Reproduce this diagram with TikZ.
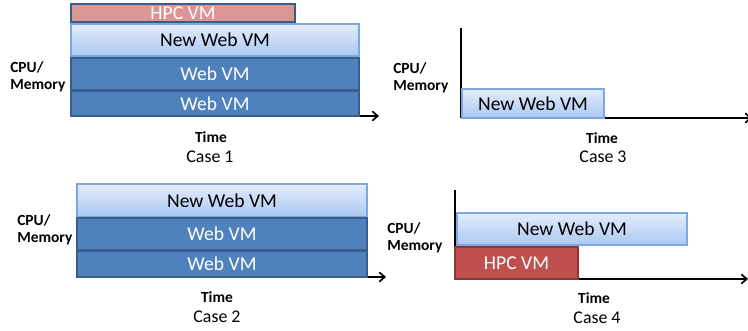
\documentclass[tikz,border=0pt]{standalone}
\usepackage{fontspec}
\setmainfont{Carlito}
\usetikzlibrary{arrows.meta,shadows}

\definecolor{webfill}{RGB}{79,129,189}
\definecolor{webline}{RGB}{56,93,138}
\definecolor{newtop}{RGB}{226,236,252}
\definecolor{newbot}{RGB}{172,200,242}
\definecolor{newline}{RGB}{126,166,224}
\definecolor{hpcpale}{RGB}{217,150,148}
\definecolor{hpcfill}{RGB}{192,80,77}
\definecolor{hpcline}{RGB}{140,56,54}

\tikzset{
  vmbox/.style={rectangle, inner sep=0pt, line width=0.9pt,
    drop shadow={shadow xshift=0.6pt, shadow yshift=-0.8pt, opacity=0.35},
    font=\fontsize{14.7}{16}\selectfont},
  webvm/.style={vmbox, draw=webline, fill=webfill, text=white},
  newvm/.style={vmbox, draw=newline, top color=newtop, bottom color=newbot, text=black},
  hpcvm/.style={vmbox, draw=hpcline, fill=hpcfill, text=white},
  axisline/.style={line width=1.5pt, -{Straight Barb[length=4pt,width=7pt,line width=1.3pt]}},
  ylabel/.style={anchor=west, align=left, inner sep=0pt, font=\bfseries\fontsize{11.6}{13}\selectfont},
  tlabel/.style={inner sep=0pt, font=\bfseries\fontsize{11.6}{13}\selectfont},
  clabel/.style={inner sep=0pt, font=\fontsize{13.4}{15}\selectfont}
}

\begin{document}
\begin{tikzpicture}[x=0.75pt,y=0.75pt,yscale=-1,xscale=1]
\useasboundingbox (0,0) rectangle (748,330);

%Axes
\coordinate (o1) at (71,116);  \coordinate (y1) at (71,22);  \coordinate (x1) at (379,116);
\coordinate (o2) at (77,277);  \coordinate (y2) at (77,184); \coordinate (x2) at (386,277);
\coordinate (o3) at (461,118); \coordinate (y3) at (461,28); \coordinate (x3) at (752,118);
\coordinate (o4) at (455,279); \coordinate (y4) at (455,190); \coordinate (x4) at (748,279);
\draw [line width=1.5pt] (y1) -- (o1);
\draw [axisline] (o1) -- (x1);
\draw [line width=1.5pt] (y2) -- (o2);
\draw [axisline] (o2) -- (x2);
\draw [line width=1.5pt] (y3) -- (o3);
\draw [axisline] (o3) -- (x3);
\draw [line width=1.5pt] (y4) -- (o4);
\draw [axisline] (o4) -- (x4);

%Case 1
\node [hpcvm, fill=hpcpale, draw=webline, minimum width=168pt, minimum height=13.5pt] (hpc1) at (183,13) {HPC VM};
\node [newvm, minimum width=216pt, minimum height=24pt] (new1) at (215,40) {New Web VM};
\node [webvm, minimum width=216pt, minimum height=24pt] (weba1) at (215,74) {Web VM};
\node [webvm, minimum width=216pt, minimum height=18.75pt] (webb1) at (215,103.5) {Web VM};

%Case 2
\node [newvm, minimum width=217.5pt, minimum height=24.75pt] (new2) at (222,200.5) {New Web VM};
\node [webvm, minimum width=217.5pt, minimum height=24pt] (weba2) at (222,234) {Web VM};
\node [webvm, minimum width=217.5pt, minimum height=19.5pt] (webb2) at (222,264) {Web VM};

%Case 3
\node [newvm, minimum width=106.5pt, minimum height=21.75pt] (new3) at (533,103.5) {New Web VM};

%Case 4
\node [newvm, minimum width=172.5pt, minimum height=24pt] (new4) at (572,229) {New Web VM};
\node [hpcvm, minimum width=92.25pt, minimum height=24pt] (hpc4) at (516.5,263) {HPC VM};

% Text Node
\node [ylabel] (cpu1) at (10,77) {CPU/\\Memory};
\node [ylabel] (cpu2) at (17,230) {CPU/\\Memory};
\node [ylabel] (cpu3) at (393,78) {CPU/\\Memory};
\node [ylabel] (cpu4) at (387,238) {CPU/\\Memory};
% Text Node
\node [tlabel] (time1) at (211,137) {Time};
\node [tlabel] (time2) at (217,297) {Time};
\node [tlabel] (time3) at (602,138) {Time};
\node [tlabel] (time4) at (594,298) {Time};
% Text Node
\node [clabel] (case1) at (210,157) {Case 1};
\node [clabel] (case2) at (217,317) {Case 2};
\node [clabel] (case3) at (603,157) {Case 3};
\node [clabel] (case4) at (597,318) {Case 4};

\end{tikzpicture}
\end{document}
